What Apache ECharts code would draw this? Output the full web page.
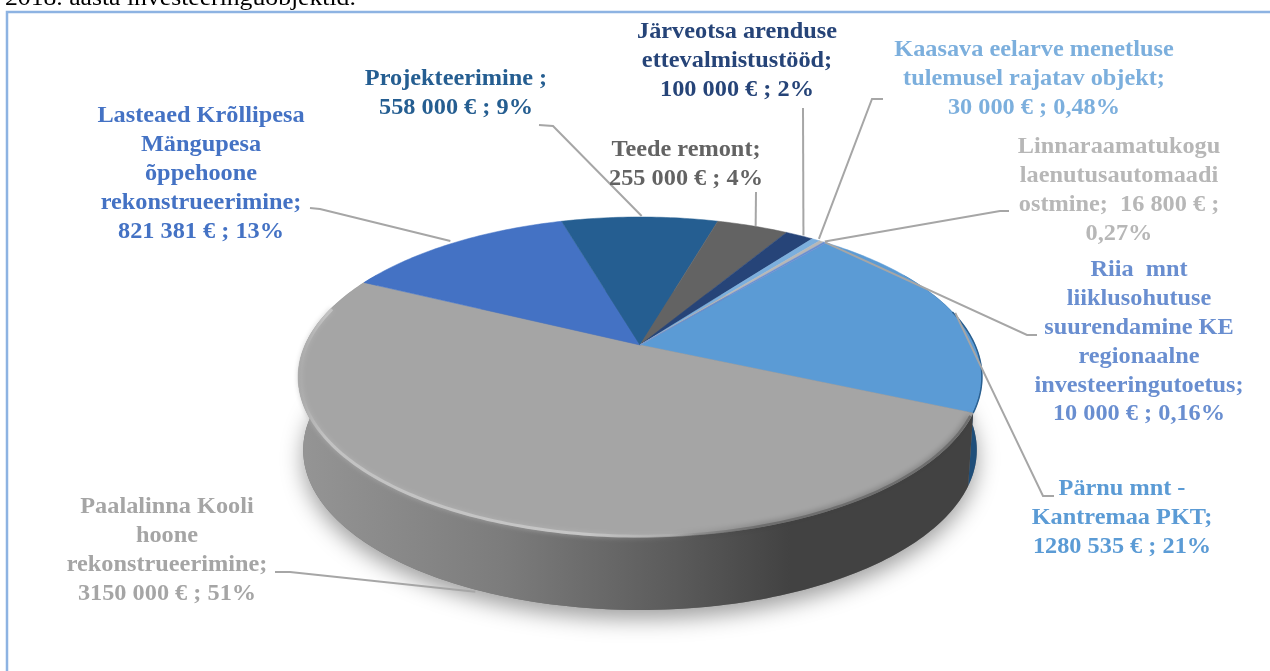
<!DOCTYPE html>
<html>
<head>
<meta charset="utf-8">
<title>Investeeringuobjektid</title>
<style>
  html, body { margin: 0; padding: 0; background: #fff; }
  #chart { width: 1270px; height: 671px; }
</style>
<script src="https://cdn.jsdelivr.net/npm/echarts@6/dist/echarts.min.js"></script>
</head>
<body>
<div id="chart"></div>
<script>
// clockwise, starting from the slice that Excel would draw first
const names = [
  'Pärnu mnt -\nKantremaa PKT;',
  'Paalalinna Kooli\nhoone\nrekonstrueerimine;',
  'Lasteaed Krõllipesa\nMängupesa\nõppehoone\nrekonstrueerimine;',
  'Projekteerimine ;',
  'Teede remont;',
  'Järveotsa arenduse\nettevalmistustööd;',
  'Kaasava eelarve menetluse\ntulemusel rajatav objekt;',
  'Linnaraamatukogu\nlaenutusautomaadi\nostmine;  16 800 € ;',
  'Riia  mnt\nliiklusohutuse\nsuurendamine KE\nregionaalne\ninvesteeringutoetus;'
]
const amounts = [1280535, 3150000, 821381, 558000, 255000, 100000, 30000, 16800, 10000]
const valueTexts = [
  '1280 535 € ; 21%',
  '3150 000 € ; 51%',
  '821 381 € ; 13%',
  '558 000 € ; 9%',
  '255 000 € ; 4%',
  '100 000 € ; 2%',
  '30 000 € ; 0,48%',
  '0,27%',
  '10 000 € ; 0,16%'
]
const colors = ['#5b9bd5', '#a5a5a5', '#4472c4', '#255e91', '#636363', '#264478', '#7cafdd', '#b7b7b7', '#698ed0']

// label layout: text centre x, first line y, leader start (at the text), knee, nudge of the leader end
const labelBoxes = [
  { x: 1122, y: 489.5, from: [1054, 496], knee: [1043, 496], nudge: [3, 1] },
  { x: 167, y: 507.5, from: [275, 572], knee: [290, 572], nudge: [9, 77] },
  { x: 201, y: 116.5, from: [310, 208], knee: [320, 209], nudge: [-3, -2] },
  { x: 456, y: 79.5, from: [539, 125], knee: [553, 126], nudge: [2, -1] },
  { x: 686, y: 150.5, from: [756, 192], knee: [756, 192], nudge: [3, 0] },
  { x: 737, y: 32.5, from: [803, 108], knee: [803, 108], nudge: [4, 0] },
  { x: 1034, y: 50.5, from: [883, 99], knee: [872, 99], nudge: [3, -1] },
  { x: 1119, y: 147.5, from: [1009, 211], knee: [1000, 211], nudge: [3, 0] },
  { x: 1139, y: 270.5, from: [1037, 335], knee: [1027, 335], nudge: [0, 0] }
]

const startAngle = 39.9   // where the first slice begins, clockwise from 12 o'clock
const total = amounts.reduce((a, b) => a + b, 0)
const pie = { cx: 640, cy: 345, rx: 335, ry: 153.6, persp: 0.2, depth: 73, bottomScale: 0.985 }
const lineHeight = 28.8

const toRad = d => d * Math.PI / 180

// the pie disc seen in perspective, theta in degrees clockwise from the far side
const rimPoint = (theta, k) => {
  const s = Math.sin(toRad(theta)), c = Math.cos(toRad(theta)), w = 1 + pie.persp * c
  return [pie.cx + k * pie.rx * s / w, 377 + k * (pie.cy - 377 - pie.ry * c / w)]
}
const topPoint = theta => rimPoint(theta, 1)
const bottomPoint = theta => {
  const s = Math.sin(toRad(theta)), c = Math.cos(toRad(theta)), w = 1 + pie.persp * c
  return [pie.cx + pie.bottomScale * pie.rx * s / w, pie.cy + pie.depth - pie.ry * c / w]
}
const arc = (fn, a, b) => {
  const pts = [], n = Math.max(2, Math.ceil(Math.abs(b - a)))
  for (let i = 0; i <= n; i++) pts.push(fn(a + (b - a) * i / n))
  return pts
}
const sliceRange = i => {
  let before = 0
  for (let k = 0; k < i; k++) before += amounts[k]
  const a = startAngle + before / total * 360
  return [a, a + amounts[i] / total * 360]
}
const shade = (hex, f) => {
  const n = parseInt(hex.slice(1), 16)
  const ch = v => Math.round(v * f)
  return `rgb(${ch(n >> 16)},${ch((n >> 8) & 255)},${ch(n & 255)})`
}
const wallFill = color => new echarts.graphic.LinearGradient(298, 0, 982, 0, [
  { offset: 0, color: shade(color, 0.9) },
  { offset: 0.3, color: shade(color, 0.75) },
  { offset: 0.55, color: shade(color, 0.55) },
  { offset: 0.72, color: shade(color, 0.4) },
  { offset: 1, color: shade(color, 0.4) }
], true)

const renderWall = (params, api) => {
  const i = api.value(0)
  const [a, b] = sliceRange(i)
  const children = []
  if (i === 0) {
    // soft shadow under the whole pie
    children.push({
      type: 'polygon',
      shape: { points: arc(bottomPoint, 0, 360) },
      style: { fill: '#777', shadowBlur: 22, shadowColor: 'rgba(0,0,0,0.38)', shadowOffsetY: 9, shadowOffsetX: 0 }
    })
  }
  const from = Math.max(a, 60), to = Math.min(b, 300)
  if (to > from) {
    const pts = arc(topPoint, from, to).concat(arc(bottomPoint, to, from))
    children.push({
      type: 'polygon',
      shape: { points: pts },
      style: { fill: i === 0 ? '#1f4e79' : wallFill(colors[i]) }
    })
  }
  return { type: 'group', children }
}

const renderTop = (params, api) => {
  const i = api.value(0)
  const [a, b] = sliceRange(i)
  const children = [{
    type: 'polygon',
    shape: { points: [[pie.cx, pie.cy]].concat(arc(topPoint, a, b)) },
    style: { fill: colors[i], stroke: colors[i], lineWidth: 0.5 }
  }]
  if (amounts[i] === Math.max(...amounts)) {
    // dark blur where the rim meets the shaded wall on the right
    children.push({
      type: 'polyline',
      shape: { points: arc(t => rimPoint(t, 0.996), a + 1, a + 62) },
      style: {
        fill: null,
        lineWidth: 2.5,
        stroke: new echarts.graphic.LinearGradient(298, 0, 982, 0, [
          { offset: 0.54, color: 'rgba(110,110,110,0)' },
          { offset: 0.68, color: 'rgba(110,110,110,1)' },
          { offset: 1, color: 'rgba(110,110,110,1)' }
        ], true),
        shadowBlur: 6,
        shadowColor: 'rgba(60,60,60,0.8)'
      }
    })
    // soft highlight along the lit part of the rim
    children.push({
      type: 'polyline',
      shape: { points: arc(t => rimPoint(t, 0.995), a + 58, b - 12) },
      style: {
        fill: null,
        lineWidth: 3,
        stroke: new echarts.graphic.LinearGradient(298, 0, 982, 0, [
          { offset: 0, color: 'rgba(168,168,168,1)' },
          { offset: 0.04, color: 'rgba(194,194,194,1)' },
          { offset: 0.42, color: 'rgba(198,198,198,1)' },
          { offset: 0.585, color: 'rgba(190,190,190,0)' }
        ], true),
        shadowBlur: 5,
        shadowColor: 'rgba(185,185,185,0.8)'
      }
    })
  }
  if (i === 0) {
    // dark edge of the wall showing behind the right rim
    children.push({
      type: 'polyline',
      shape: { points: arc(topPoint, b - 37, b) },
      style: { fill: null, lineWidth: 1.5, stroke: '#2a5f8f' }
    })
  }
  return { type: 'group', children }
}

const renderLabel = (params, api) => {
  const i = api.value(0)
  const [a, b] = sliceRange(i)
  const box = labelBoxes[i]
  const rim = topPoint((a + b) / 2)
  const end = [rim[0] + box.nudge[0], rim[1] + box.nudge[1]]
  const lines = (names[i] + '\n' + valueTexts[i]).split('\n')
  const children = [{
    type: 'polyline',
    shape: { points: [box.from, box.knee, end] },
    style: { fill: null, stroke: '#a6a6a6', lineWidth: 2 }
  }]
  lines.forEach((line, k) => {
    children.push({
      type: 'text',
      x: box.x,
      y: box.y + k * lineHeight,
      scaleX: 1.08,
      style: {
        text: line,
        x: 0,
        y: 0,
        align: 'center',
        verticalAlign: 'middle',
        fill: colors[i],
        font: 'bold 22.5px "Liberation Serif", serif'
      }
    })
  })
  return { type: 'group', children }
}

const rows = amounts.map((v, i) => [i, v])
const chart = echarts.init(document.getElementById('chart'))
chart.setOption({
  animation: false,
  backgroundColor: '#fff',
  graphic: [
    { type: 'rect', silent: true, z: 0, shape: { x: 7, y: 12, width: 1300, height: 700 },
      style: { fill: '#fff', stroke: '#8db3e2', lineWidth: 2.5 } },
    { type: 'text', silent: true, z: 0, x: 5, y: -13, scaleX: 1.07,
      style: { text: '2018. aasta investeeringuobjektid.', fill: '#000', font: '24px "Liberation Serif", serif' } }
  ],
  series: [
    { type: 'custom', coordinateSystem: 'none', z: 2, data: rows, renderItem: renderWall },
    { type: 'custom', coordinateSystem: 'none', z: 3, data: rows, renderItem: renderTop },
    { type: 'custom', coordinateSystem: 'none', z: 4, data: rows, renderItem: renderLabel }
  ]
})
window.addEventListener('resize', () => chart.resize())
</script>
</body>
</html>
